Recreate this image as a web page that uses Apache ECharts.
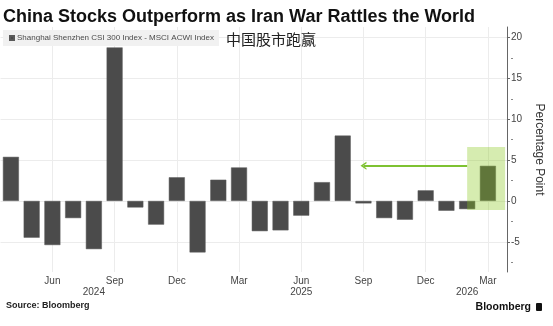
<!DOCTYPE html>
<html><head><meta charset="utf-8">
<script src="https://cdn.jsdelivr.net/npm/echarts@6/dist/echarts.min.js"></script>
<style>html,body{margin:0;padding:0;background:#fff}#c{width:553px;height:326px}</style>
</head><body><div id="c"></div>
<script>
// Monthly categories (Apr 2024 .. Mar 2026)
const months = ['2024-04','2024-05','2024-06','2024-07','2024-08','2024-09','2024-10','2024-11','2024-12',
  '2025-01','2025-02','2025-03','2025-04','2025-05','2025-06','2025-07','2025-08','2025-09','2025-10','2025-11','2025-12',
  '2026-01','2026-02','2026-03'];
// CSI 300 minus MSCI ACWI monthly return gap, percentage points
const values = [5.4,-4.5,-5.4,-2.1,-5.9,18.8,-0.8,-2.9,2.9,-6.3,2.6,4.1,-3.7,-3.6,-1.8,2.3,8.0,-0.3,-2.1,-2.3,1.3,-1.2,-1.0,4.3];
// Quarter tick labels (placed at bar indices)
const monthTickIdx = [2,5,8,11,14,17,20,23];
const monthTickLabels = ['Jun','Sep','Dec','Mar','Jun','Sep','Dec','Mar'];
const yearTickIdx = [4,14,22];
const yearTickLabels = ['2024','2025','2026'];
const yTicks = [-5,0,5,10,15,20];
const yMinorTicks = [-7.5,-2.5,2.5,7.5,12.5,17.5];
// Highlight annotation
const highlightX = [22, 23.83];
const highlightY = [6.6, -1.1];
const arrowFrom = 22, arrowTo = 17;

const font = 'Liberation Sans';
const chart = echarts.init(document.getElementById('c'), null, {renderer:'canvas'});
const xMin = -0.5, xMax = 23.92, yMin = -8.7, yMax = 21.3;
const gridLeft = 0.55, gridRight = 42;
const gridWidth = 553 - gridLeft - gridRight;

chart.setOption({
  animation: false,
  textStyle: {fontFamily: font},
  title: [
    {text: 'China Stocks Outperform as Iran War Rattles the World', left: 3, top: 8, padding: 0,
     textStyle: {fontSize: 18, fontWeight: 'bold', color: '#111', fontFamily: font}},
    {text: '中国股市跑赢', left: 226, top: 32, padding: 0,
     textStyle: {fontSize: 15, fontWeight: 'normal', color: '#222', fontFamily: 'Noto Sans CJK SC'}},
    {text: 'Source: Bloomberg', left: 6, top: 301, padding: 0,
     textStyle: {fontSize: 9, fontWeight: 'bold', color: '#222', fontFamily: font}},
    {text: '{t|Bloomberg} {i|}', right: 11, top: 298, padding: 0,
     textStyle: {rich: {
       t: {fontSize: 10.5, fontWeight: 'bold', color: '#111', fontFamily: font},
       i: {width: 6, height: 8, backgroundColor: '#111', borderRadius: 1}
     }}}
  ],
  legend: {
    left: 3, top: 30, padding: [4, 5, 4, 6], backgroundColor: '#f1f1f1',
    itemWidth: 4, itemHeight: 4, icon: 'rect',
    data: ['Shanghai Shenzhen CSI 300 Index - MSCI ACWI Index'],
    textStyle: {fontSize: 8, color: '#4a4a4a', fontFamily: font, padding: [0,0,0,-2]}
  },
  grid: {left: gridLeft, right: gridRight, top: 27, bottom: 54, containLabel: false},
  xAxis: [
    {type: 'value', min: xMin, max: xMax, position: 'bottom',
     axisLine: {show: false, onZero: false}, axisLabel: {show: false}, splitLine: {show: false},
     axisTick: {show: true, inside: true, length: 245, customValues: monthTickIdx,
                lineStyle: {color: '#ececec', width: 1}}},
    {type: 'value', min: xMin, max: xMax, position: 'bottom',
     axisLine: {show: false, onZero: false}, axisTick: {show: false}, splitLine: {show: false},
     axisLabel: {customValues: monthTickIdx, margin: 4, fontSize: 10, color: '#444', fontFamily: font,
       formatter: v => monthTickLabels[monthTickIdx.indexOf(Math.round(v))] || ''}},
    {type: 'value', min: xMin, max: xMax, position: 'bottom',
     axisLine: {show: false, onZero: false}, axisTick: {show: false}, splitLine: {show: false},
     axisLabel: {customValues: yearTickIdx, margin: 15, fontSize: 10, color: '#444', fontFamily: font,
       formatter: v => yearTickLabels[yearTickIdx.indexOf(Math.round(v))] || ''}}
  ],
  yAxis: [
    {type: 'value', min: yMin, max: yMax, position: 'right',
     axisLine: {show: true, onZero: false, lineStyle: {color: '#666', width: 1}},
     axisTick: {show: true, length: 3, customValues: yTicks, lineStyle: {color: '#666'}},
     axisLabel: {customValues: yTicks, margin: 4, fontSize: 10, color: '#444', fontFamily: font},
     splitLine: {show: true, lineStyle: {color: '#ececec', width: 1}},
     name: 'Percentage Point', nameLocation: 'middle', nameRotate: -90, nameGap: 18,
     nameTextStyle: {fontSize: 12, color: '#333', fontFamily: font}},
    {type: 'value', min: yMin, max: yMax, position: 'left', offset: -gridWidth,
     axisLine: {show: false, onZero: false}, axisLabel: {show: false}, splitLine: {show: false},
     axisTick: {show: true, inside: true, length: 2, customValues: yMinorTicks, lineStyle: {color: '#888'}}}
  ],
  series: [
    {name: 'Shanghai Shenzhen CSI 300 Index - MSCI ACWI Index', type: 'bar',
     xAxisIndex: 0, yAxisIndex: 0,
     data: values.map((v, i) => [i, v]), barWidth: 16,
     itemStyle: {color: '#4b4b4b', borderColor: '#5a5a5a', borderWidth: 0.5},
     markLine: {silent: true, z: 6, symbol: ['none', 'path://M0,10 L5,0 L10,10 L8,10 L5,4 L2,10 Z'],
       symbolSize: [8, 6], label: {show: false},
       lineStyle: {color: '#7ec232', width: 2, type: 'solid'},
       data: [[{coord: [arrowFrom, values[values.length-1]]}, {coord: [arrowTo, values[values.length-1]]}]]}},
    {name: 'highlight', type: 'line', xAxisIndex: 0, yAxisIndex: 0, z: 5,
     data: [], showSymbol: false,
     markArea: {silent: true, z: 10, itemStyle: {color: 'rgba(138,201,29,0.35)'},
       data: [[{coord: [highlightX[0], highlightY[0]]}, {coord: [highlightX[1], highlightY[1]]}]]}}
  ]
});
</script></body></html>
